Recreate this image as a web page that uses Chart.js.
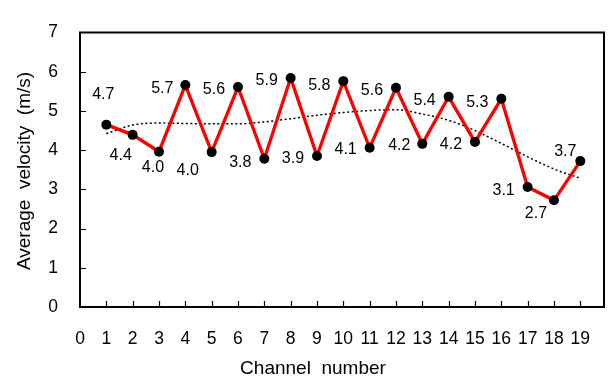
<!DOCTYPE html>
<html>
<head>
<meta charset="utf-8">
<script src="https://cdn.jsdelivr.net/npm/chart.js@4.4.0/dist/chart.umd.min.js"></script>
<style>
html, body { margin: 0; padding: 0; background: #fff; }
#wrap { width: 615px; height: 383px; }
</style>
</head>
<body>
<div id="wrap"><canvas id="velChart" width="615" height="383"></canvas></div>
<script>
// data
var channels = [1, 2, 3, 4, 5, 6, 7, 8, 9, 10, 11, 12, 13, 14, 15, 16, 17, 18, 19]
var avgVelocity = [4.65, 4.39, 3.96, 5.66, 3.95, 5.61, 3.78, 5.84, 3.85, 5.76, 4.06, 5.59, 4.16, 5.36, 4.21, 5.31, 3.06, 2.72, 3.72]
var pointLabels = ["4.7", "4.4", "4.0", "5.7", "4.0", "5.6", "3.8", "5.9", "3.9", "5.8", "4.1", "5.6", "4.2", "5.4", "4.2", "5.3", "3.1", "2.7", "3.7"]
var trendVelocity = [4.42, 4.64, 4.69, 4.68, 4.67, 4.67, 4.72, 4.80, 4.89, 4.96, 5.01, 5.03, 4.92, 4.76, 4.50, 4.17, 3.83, 3.52, 3.28]
var xTicks = [0, 1, 2, 3, 4, 5, 6, 7, 8, 9, 10, 11, 12, 13, 14, 15, 16, 17, 18, 19]
var yTicks = [0, 1, 2, 3, 4, 5, 6, 7]
var xTitle = "Channel  number"
var yTitle = "Average  velocity  (m/s)"

// where each value label sits relative to its point (px)
var labelOffsets = [[-3, -30], [-12, 21], [-6, 16], [-23, 4], [-24, 18], [-24, 3], [-24, 4], [-24, 3], [-24, 3], [-24, 4],
                    [-24, 2], [-24, 3], [-23, 2], [-24, 4], [-24, 3], [-24, 4], [-24, 4], [-18, 13], [-15, -10]]

var FONT = '"Liberation Sans", Arial, sans-serif'

function toPoints(xs, ys) {
    var pts = []
    for (var i = 0; i < xs.length; i++) pts.push({x: xs[i], y: ys[i]})
    return pts
}

var extras = {
    id: 'extras',
    beforeDatasetsDraw: function(chart) {
        var ctx = chart.ctx
        var a = chart.chartArea
        ctx.save()
        ctx.strokeStyle = '#000'
        ctx.lineWidth = 2
        ctx.strokeRect(a.left, a.top, a.right - a.left, a.bottom - a.top)
        // tick marks point into the plot
        ctx.lineWidth = 1.2
        ctx.beginPath()
        xTicks.forEach(function(v) {
            if (v == 0) return
            var px = Math.round(chart.scales.x.getPixelForValue(v)) + 0.5
            ctx.moveTo(px, a.bottom)
            ctx.lineTo(px, a.bottom - 6)
        })
        yTicks.forEach(function(v) {
            if (v == 0 || v == 7) return
            var py = Math.round(chart.scales.y.getPixelForValue(v)) + 0.5
            ctx.moveTo(a.left, py)
            ctx.lineTo(a.left + 6, py)
        })
        ctx.stroke()
        ctx.restore()
    },
    afterDatasetsDraw: function(chart) {
        var ctx = chart.ctx
        var meta = chart.getDatasetMeta(0)
        ctx.save()
        ctx.fillStyle = '#000'
        ctx.font = '16px ' + FONT
        ctx.textAlign = 'center'
        ctx.textBaseline = 'middle'
        meta.data.forEach(function(pt, i) {
            ctx.fillText(pointLabels[i], pt.x + labelOffsets[i][0], pt.y + labelOffsets[i][1])
        })
        // axis titles
        ctx.font = '19px ' + FONT
        ctx.fillText(xTitle, 313, 369)
        ctx.translate(25, 171)
        ctx.rotate(-Math.PI / 2)
        ctx.fillText(yTitle, 0, 0)
        ctx.restore()
    }
}

var ctx = document.getElementById('velChart').getContext('2d')
window.velChart = new Chart(ctx, {
    type: 'scatter',
    data: {
        datasets: [{
            label: 'Average velocity',
            data: toPoints(channels, avgVelocity),
            showLine: true,
            borderColor: '#ff0000',
            borderWidth: 3.3,
            pointBackgroundColor: '#000',
            pointBorderColor: '#000',
            pointRadius: 5,
            pointBorderWidth: 0
        }, {
            label: 'Trend',
            data: toPoints(channels, trendVelocity),
            showLine: true,
            borderColor: '#000',
            borderWidth: 1.5,
            borderDash: [2, 2.5],
            pointRadius: 0,
            cubicInterpolationMode: 'monotone'
        }]
    },
    options: {
        responsive: false,
        animation: false,
        devicePixelRatio: 1,
        layout: {padding: {top: 10, right: 11, left: 0, bottom: 0}},
        plugins: {legend: {display: false}, tooltip: {enabled: false}},
        scales: {
            x: {
                type: 'linear',
                min: 0,
                max: 19.9,
                afterBuildTicks: function(scale) { scale.ticks = xTicks.map(function(v) { return {value: v} }) },
                afterFit: function(scale) { scale.height = 76 },
                grid: {display: false, drawTicks: false},
                border: {display: false},
                ticks: {color: '#000', font: {size: 17.5, family: FONT}, padding: 22, maxRotation: 0, autoSkip: false}
            },
            y: {
                min: 0,
                max: 7,
                afterBuildTicks: function(scale) { scale.ticks = yTicks.map(function(v) { return {value: v} }) },
                afterFit: function(scale) { scale.width = 80 },
                grid: {display: false, drawTicks: false},
                border: {display: false},
                ticks: {color: '#000', font: {size: 17.5, family: FONT}, padding: 22}
            }
        }
    },
    plugins: [extras]
})
</script>
</body>
</html>
